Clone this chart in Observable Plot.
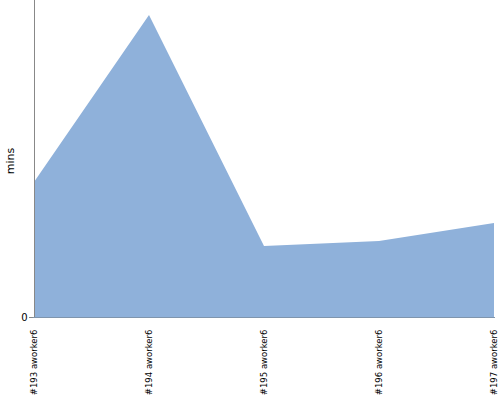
<!DOCTYPE html>
<html><head><meta charset="utf-8">
<script src="https://cdn.jsdelivr.net/npm/d3@7"></script>
<script src="https://cdn.jsdelivr.net/npm/@observablehq/plot@0.6"></script>
<style>body{margin:0;background:#fff}</style>
</head><body><div id="chart"></div>
<script>
const builds = ["#193 aworker6", "#194 aworker6", "#195 aworker6", "#196 aworker6", "#197 aworker6"];
const mins = [13.5, 30.2, 7.1, 7.6, 9.4];
const yTicks = [0];
const data = builds.map((b, i) => ({build: b, mins: mins[i]}));
const chart = Plot.plot({
  width: 500, height: 400,
  marginLeft: 33, marginRight: 5, marginTop: 0, marginBottom: 83,
  style: {fontFamily: "DejaVu Sans", fontSize: "9px", background: "#fff"},
  x: {type: "point", domain: builds, padding: 0},
  y: {domain: [0, 31.7]},
  marks: [
    Plot.areaY(data, {x: "build", y: "mins", fill: "#8fb1da", curve: "linear"}),
    Plot.ruleY([0], {stroke: "#7f95ad"}),
    Plot.ruleX([builds[0]], {stroke: "#888", y1: 0, y2: 31.7}),
    Plot.axisX({tickSize: 0, tickRotate: -90, tickPadding: 12, fontSize: 8.5, label: null, textAnchor: "end", fill: "#000"}),
    Plot.axisY(yTicks, {tickSize: 4, tickPadding: 2, label: null, fontSize: 10, stroke: "#888"}),
    Plot.text(["mins"], {frameAnchor: "left", textAnchor: "middle", dx: -23, dy: 2, rotate: -90, fontSize: 11, fill: "#000"})
  ]
});
document.getElementById("chart").appendChild(chart);
</script></body></html>
